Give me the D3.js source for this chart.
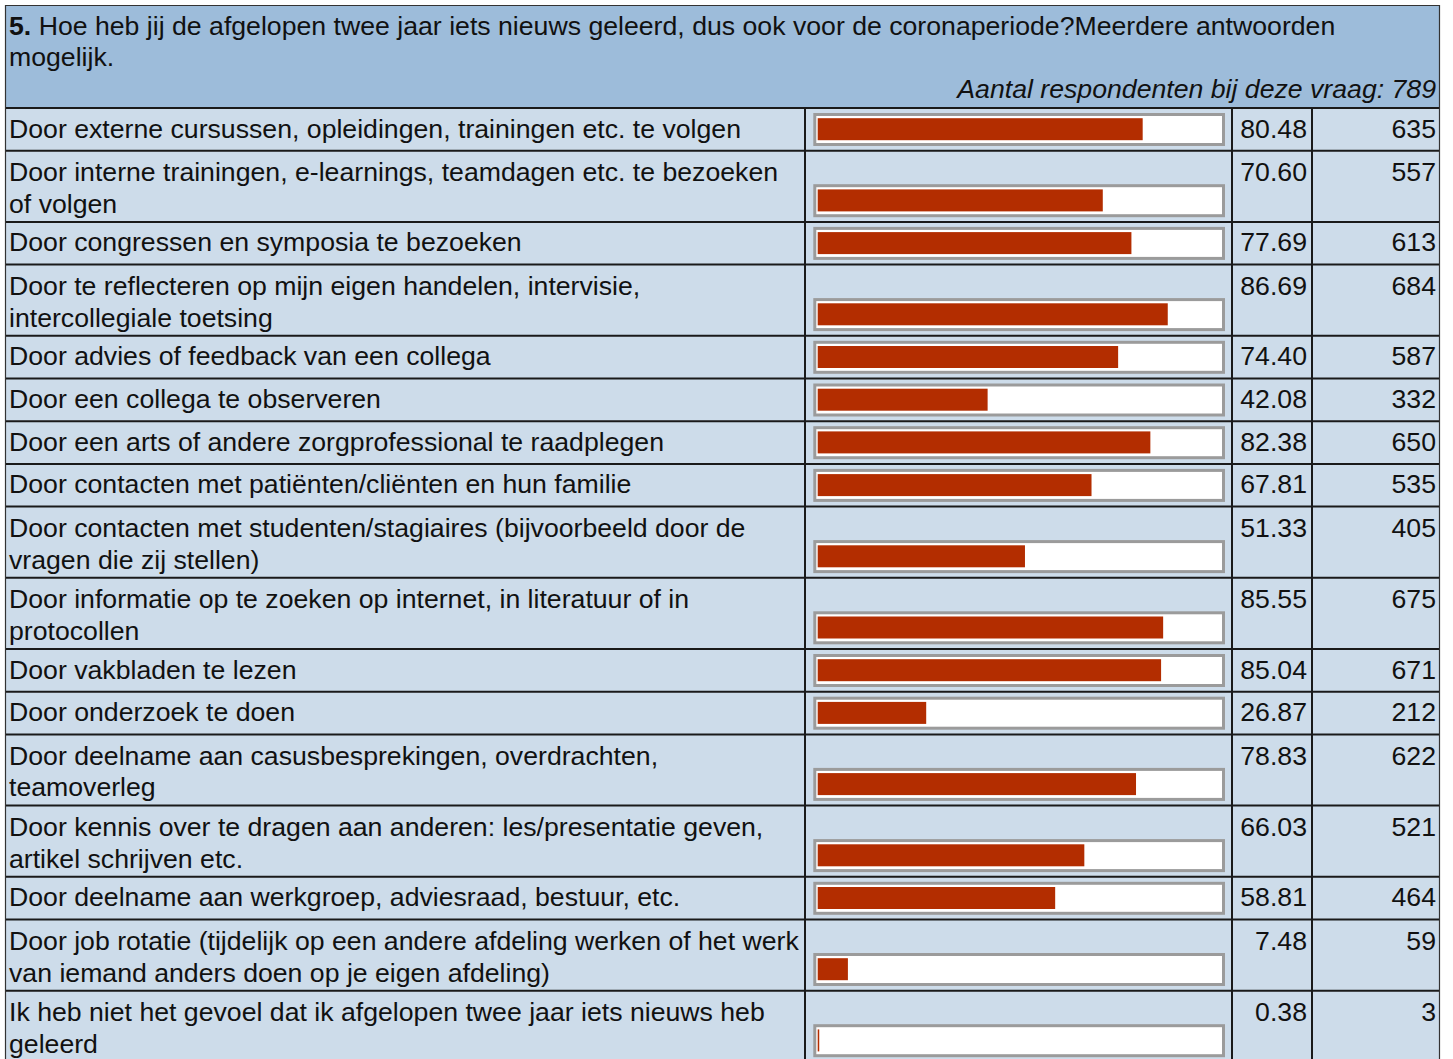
<!DOCTYPE html>
<html>
<head>
<meta charset="utf-8">
<title>Vraag 5</title>
<script src="https://cdn.jsdelivr.net/npm/d3@7"></script>
<style>
    body { margin: 0; background: #fff; }
    text { font-family: Arial, "Liberation Sans", sans-serif; font-size: 26.67px; fill: #111; }
</style>
</head>
<body>
<script>
    // ---- data ----
    var questionNr = "5.";
    var questionLines = [
        " Hoe heb jij de afgelopen twee jaar iets nieuws geleerd, dus ook voor de coronaperiode?Meerdere antwoorden",
        "mogelijk."
    ];
    var respondentsNote = "Aantal respondenten bij deze vraag: 789";

    var labels = [
        ["Door externe cursussen, opleidingen, trainingen etc. te volgen"],
        ["Door interne trainingen, e-learnings, teamdagen etc. te bezoeken", "of volgen"],
        ["Door congressen en symposia te bezoeken"],
        ["Door te reflecteren op mijn eigen handelen, intervisie,", "intercollegiale toetsing"],
        ["Door advies of feedback van een collega"],
        ["Door een collega te observeren"],
        ["Door een arts of andere zorgprofessional te raadplegen"],
        ["Door contacten met patiënten/cliënten en hun familie"],
        ["Door contacten met studenten/stagiaires (bijvoorbeeld door de", "vragen die zij stellen)"],
        ["Door informatie op te zoeken op internet, in literatuur of in", "protocollen"],
        ["Door vakbladen te lezen"],
        ["Door onderzoek te doen"],
        ["Door deelname aan casusbesprekingen, overdrachten,", "teamoverleg"],
        ["Door kennis over te dragen aan anderen: les/presentatie geven,", "artikel schrijven etc."],
        ["Door deelname aan werkgroep, adviesraad, bestuur, etc."],
        ["Door job rotatie (tijdelijk op een andere afdeling werken of het werk", "van iemand anders doen op je eigen afdeling)"],
        ["Ik heb niet het gevoel dat ik afgelopen twee jaar iets nieuws heb", "geleerd"]
    ];
    var percentages = [80.48, 70.60, 77.69, 86.69, 74.40, 42.08, 82.38, 67.81, 51.33,
                       85.55, 85.04, 26.87, 78.83, 66.03, 58.81, 7.48, 0.38];
    var counts = [635, 557, 613, 684, 587, 332, 650, 535, 405,
                  675, 671, 212, 622, 521, 464, 59, 3];

    // ---- layout ----
    var W = 1453, H = 1059;
    var tLeft = 5.5, tRight = 1439.5, tTop = 5.5, headerBottom = 108;
    var colBar = 805, colPct = 1232, colCnt = 1312;
    var lineH = 31.5;

    var rows = labels.map(function(l, i) {
        return { lines: l, pct: percentages[i], cnt: counts[i], h: l.length > 1 ? 71.2 : 42.7 };
    });
    var y0 = headerBottom;
    rows.forEach(function(r) { r.y = y0; y0 += r.h; });

    var x = d3.scaleLinear().domain([0, 100]).range([817.7, 1221.5]);

    var svg = d3.select("body").append("svg").attr("width", W).attr("height", H);

    // header
    svg.append("rect").attr("x", tLeft).attr("y", tTop)
        .attr("width", tRight - tLeft).attr("height", headerBottom - tTop)
        .attr("fill", "#9dbcda");

    var q = svg.append("text").attr("x", 9).attr("y", 35);
    q.append("tspan").attr("font-weight", "bold").text(questionNr);
    q.append("tspan").text(questionLines[0]);
    svg.append("text").attr("x", 9).attr("y", 66).text(questionLines[1]);
    svg.append("text").attr("x", 1436).attr("y", 98)
        .attr("text-anchor", "end").attr("font-style", "italic")
        .text(respondentsNote);

    // rows
    var g = svg.selectAll("g.row").data(rows).enter().append("g").attr("class", "row")
        .attr("transform", function(d) { return "translate(0," + d.y + ")"; });

    g.append("rect").attr("x", tLeft).attr("y", 0)
        .attr("width", tRight - tLeft).attr("height", function(d) { return d.h; })
        .attr("fill", "#cddcea");

    function firstBase(d) { return d.lines.length > 1 ? 30.5 : 29.5; }

    g.each(function(d) {
        var t = d3.select(this).append("text");
        d.lines.forEach(function(line, i) {
            t.append("tspan").attr("x", 9).attr("y", firstBase(d) + i * lineH).text(line);
        });
    });

    // bar box
    g.append("rect")
        .attr("x", 814.8)
        .attr("y", function(d) { return d.h - 36.2; })
        .attr("width", 408.7).attr("height", 30)
        .attr("fill", "#fff").attr("stroke", "#9b9b9b").attr("stroke-width", 3);

    g.append("rect")
        .attr("x", x(0))
        .attr("y", function(d) { return d.h - 32.5; })
        .attr("width", function(d) { return x(d.pct) - x(0); })
        .attr("height", 22)
        .attr("fill", "#b32d00");

    g.append("text").attr("x", 1307).attr("y", firstBase).attr("text-anchor", "end")
        .text(function(d) { return d.pct.toFixed(2); });
    g.append("text").attr("x", 1436).attr("y", firstBase).attr("text-anchor", "end")
        .text(function(d) { return d.cnt; });

    // grid lines
    var lines = svg.append("g").attr("stroke", "#1a1a1a").attr("stroke-width", 2);
    lines.selectAll("line.h").data(rows).enter().append("line")
        .attr("x1", tLeft).attr("x2", tRight)
        .attr("y1", function(d) { return d.y; }).attr("y2", function(d) { return d.y; });
    [colBar, colPct, colCnt].forEach(function(cx) {
        lines.append("line").attr("x1", cx).attr("x2", cx)
            .attr("y1", headerBottom).attr("y2", H);
    });

    // outer border
    svg.append("path")
        .attr("d", "M" + tLeft + "," + H + "V" + tTop + "H" + tRight + "V" + H)
        .attr("fill", "none").attr("stroke", "#333").attr("stroke-width", 1.2);
</script>
</body>
</html>
